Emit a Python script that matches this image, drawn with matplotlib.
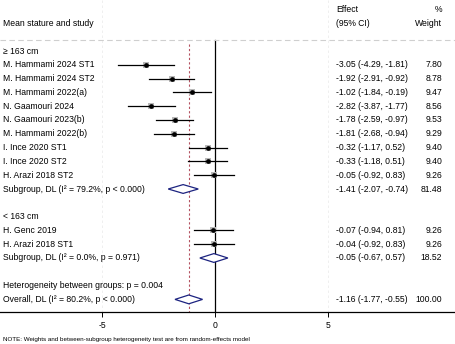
import numpy as np
import matplotlib.pyplot as plt
from matplotlib.patches import Polygon

plt.rcParams['font.family'] = ['Liberation Sans', 'DejaVu Sans']

# ---- data ----
group_names = ['\u2265 163 cm', '< 163 cm']

studies_hi = ['M. Hammami 2024 ST1', 'M. Hammami 2024 ST2', 'M. Hammami 2022(a)',
              'N. Gaamouri 2024', 'N. Gaamouri 2023(b)', 'M. Hammami 2022(b)',
              'I. Ince 2020 ST1', 'I. Ince 2020 ST2', 'H. Arazi 2018 ST2']
es_hi = [-3.05, -1.92, -1.02, -2.82, -1.78, -1.81, -0.32, -0.33, -0.05]
lo_hi = [-4.29, -2.91, -1.84, -3.87, -2.59, -2.68, -1.17, -1.18, -0.92]
up_hi = [-1.81, -0.92, -0.19, -1.77, -0.97, -0.94, 0.52, 0.51, 0.83]
w_hi = [7.80, 8.78, 9.47, 8.56, 9.53, 9.29, 9.40, 9.40, 9.26]

studies_lo = ['H. Genc 2019', 'H. Arazi 2018 ST1']
es_lo = [-0.07, -0.04]
lo_lo = [-0.94, -0.92]
up_lo = [0.81, 0.83]
w_lo = [9.26, 9.26]

sub_labels = ['Subgroup, DL (I\u00b2 = 79.2%, p < 0.000)',
              'Subgroup, DL (I\u00b2 = 0.0%, p = 0.971)']
sub_es = [-1.41, -0.05]
sub_lo = [-2.07, -0.67]
sub_up = [-0.74, 0.57]
sub_w = [81.48, 18.52]

het_text = 'Heterogeneity between groups: p = 0.004'
overall_label = 'Overall, DL (I\u00b2 = 80.2%, p < 0.000)'
overall_es, overall_lo, overall_up, overall_w = -1.16, -1.77, -0.55, 100.00

xticks = [-5, 0, 5]
note = 'NOTE: Weights and between-subgroup heterogeneity test are from random-effects model'

# ---- figure ----
W, H = 455, 344
fig = plt.figure(figsize=(W / 100, H / 100), dpi=100)
ax_bottom = 312
ax = fig.add_axes([0, 1 - ax_bottom / H, 1, ax_bottom / H])
px_per_unit = 22.6
x0 = 215
ax.set_xlim(-x0 / px_per_unit, (W - x0) / px_per_unit)
ax.set_ylim(ax_bottom, 0)

for s in ['top', 'left', 'right']:
    ax.spines[s].set_visible(False)
ax.spines['bottom'].set_linewidth(0.9)
ax.set_yticks([])
ax.set_xticks(xticks)
ax.set_xticklabels([str(t) for t in xticks])
ax.tick_params(axis='x', length=3.5, width=0.7, labelsize=6.2, pad=3)

fs = 6.2
tr = ax.get_yaxis_transform()
col_lab = 3 / W
col_es = 336 / W
col_w = 442 / W
row0 = 51
dy = 13.8

def row_y(i):
    return row0 + dy * i

# header
ax.text(col_lab, 23, 'Mean stature and study', transform=tr, fontsize=fs, va='center')
ax.text(col_es, 10, 'Effect', transform=tr, fontsize=fs, va='center')
ax.text(col_es, 23, '(95% CI)', transform=tr, fontsize=fs, va='center')
ax.text(col_w, 10, '%', transform=tr, fontsize=fs, va='center', ha='right')
ax.text(col_w, 23, 'Weight', transform=tr, fontsize=fs, va='center', ha='right')
ax.axhline(40, color='#cfcfcf', lw=0.8, dashes=(5, 3))
for t in (-5, 5):
    ax.plot([t, t], [0, ax_bottom], color='#ececec', lw=0.6, dashes=(3, 3), zorder=0)

def study_row(y, name, es, lo, up, w):
    ax.text(col_lab, y, name, transform=tr, fontsize=fs, va='center')
    ax.plot([lo, up], [y, y], color='black', lw=0.9, zorder=3)
    ax.plot(es, y, 's', color='#b8b8b8', ms=4.5 * np.sqrt(w / 10), mew=0, zorder=2)
    ax.plot(es, y, 'o', color='black', ms=3.4, mew=0, zorder=4)
    ax.text(col_es, y, f'{es:.2f} ({lo:.2f}, {up:.2f})',
            transform=tr, fontsize=fs, va='center')
    ax.text(col_w, y, f'{w:.2f}', transform=tr, fontsize=fs, va='center', ha='right')

def diamond_row(y, name, es, lo, up, w):
    ax.text(col_lab, y, name, transform=tr, fontsize=fs, va='center')
    hh = 4.4
    ax.add_patch(Polygon([[lo, y], [es, y - hh], [up, y], [es, y + hh]], closed=True,
                         facecolor='white', edgecolor='#1c2380', lw=0.9, zorder=5))
    ax.text(col_es, y, f'{es:.2f} ({lo:.2f}, {up:.2f})', transform=tr, fontsize=fs, va='center')
    ax.text(col_w, y, f'{w:.2f}', transform=tr, fontsize=fs, va='center', ha='right')

r = 0
groups = [(studies_hi, es_hi, lo_hi, up_hi, w_hi), (studies_lo, es_lo, lo_lo, up_lo, w_lo)]
for g, (names, es, lo, up, w) in enumerate(groups):
    ax.text(col_lab, row_y(r), group_names[g], transform=tr, fontsize=fs, va='center')
    r += 1
    for k in range(len(names)):
        study_row(row_y(r), names[k], es[k], lo[k], up[k], w[k])
        r += 1
    diamond_row(row_y(r), sub_labels[g], sub_es[g], sub_lo[g], sub_up[g], sub_w[g])
    r += 2

ax.text(col_lab, row_y(r), het_text, transform=tr, fontsize=fs, va='center')
r += 1
diamond_row(row_y(r), overall_label, overall_es, overall_lo, overall_up, overall_w)

# reference lines
ax.plot([0, 0], [40, ax_bottom], color='black', lw=0.9, zorder=1)
ax.plot([overall_es, overall_es], [44, ax_bottom], color='#b4505f', lw=0.8,
        dashes=(2, 2), zorder=1)

fig.text(3 / W, 1 - 340 / H, note, fontsize=4.5, va='center')

fig.savefig('out.png', dpi=100)
